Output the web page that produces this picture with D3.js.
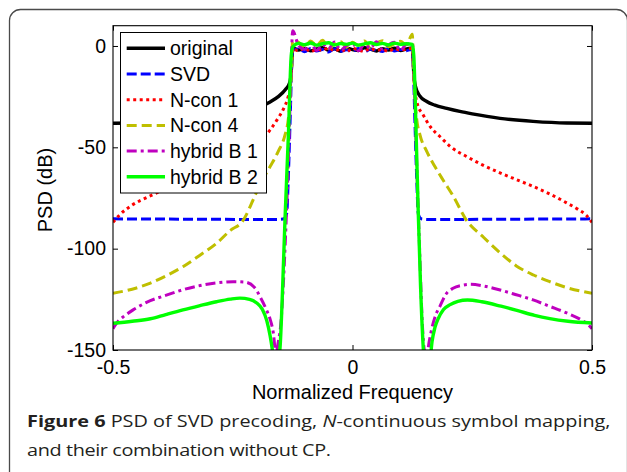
<!DOCTYPE html>
<html>
<head>
<meta charset="utf-8">
<script src="https://cdn.jsdelivr.net/npm/d3@7"></script>
<style>
  html, body { margin: 0; padding: 0; background: #fff; }
  svg { display: block; }
</style>
</head>
<body>
<svg id="chart" width="627" height="472"></svg>
<script>
// ---------------- data ----------------
const xTicks = [-0.5, 0, 0.5];
const yTicks = [0, -50, -100, -150];
const xTickLabels = ["-0.5", "0", "0.5"];
const yTickLabels = ["0", "-50", "-100", "-150"];
const seriesNames = ["original", "SVD", "N-con 1", "N-con 4", "hybrid B 1", "hybrid B 2"];

// passband frequencies shared by all curves
const bandFreq = [-0.125,-0.1125,-0.1,-0.0875,-0.075,-0.0625,-0.05,-0.0375,-0.025,-0.0125,0,
                  0.0125,0.025,0.0375,0.05,0.0625,0.075,0.0875,0.1,0.1125,0.125];

// original
const originalLeft = [[-0.5,-38.1],[-0.447,-38],[-0.377,-37.2],[-0.308,-35.6],[-0.25,-33.3],[-0.224,-32],
  [-0.197,-30.3],[-0.172,-27.6],[-0.155,-25],[-0.14,-21.5],[-0.131,-18],[-0.128,-13],[-0.1265,-6]];
const originalBand = [-1,-2,-1.2,-2.4,-1.5,-0.8,-2.1,-1.4,-2.6,-1.1,-1.8,-2.2,-0.9,-1.6,-2.5,-1.3,-2,-1.1,-2.3,-1.5,-1];
const originalRight = [[0.1265,-6],[0.128,-14],[0.131,-19.5],[0.14,-24.5],[0.155,-27.4],[0.172,-29.2],
  [0.197,-30.8],[0.224,-32.3],[0.25,-33.5],[0.308,-35.7],[0.377,-37.2],[0.447,-38],[0.5,-38.1]];

// SVD
const svdLeft = [[-0.5,-85.3],[-0.4,-85.4],[-0.3,-85.5],[-0.2,-85.6],[-0.16,-85.6],[-0.145,-85.4],
  [-0.14,-84.5],[-0.137,-82],[-0.134,-65],[-0.13,-35],[-0.127,-10]];
const svdBand = [-2.2,-1.5,-2.8,-1.2,-2.5,-1.8,-3,-1.4,-2.6,-1.9,-2.4,-1.2,-2.9,-1.6,-2.2,-2.7,-1.3,-2.5,-1.8,-2.3,-1.6];
const svdRight = [[0.127,-10],[0.13,-35],[0.134,-65],[0.137,-82],[0.14,-84.5],[0.145,-85.4],
  [0.16,-85.6],[0.2,-85.6],[0.3,-85.5],[0.4,-85.4],[0.5,-85.3]];

// N-con 1
const ncon1Left = [[-0.5,-87],[-0.486,-83.3],[-0.46,-78.5],[-0.425,-74.3],[-0.38,-69.5],[-0.356,-67],
  [-0.31,-62.8],[-0.27,-58.5],[-0.24,-55],[-0.2,-49],[-0.172,-41.4],[-0.155,-35.5],[-0.142,-30],
  [-0.135,-25.6],[-0.13,-20],[-0.127,-10]];
const ncon1Band = [-1.5,-2.4,-1,-2.8,-1.7,-2.2,-0.9,-2.5,-1.4,-2.9,-1.2,-2,-2.6,-1.1,-2.3,-1.6,-2.7,-1.3,-2.1,-1.5,-1.2];
const ncon1Right = [[0.127,-10],[0.13,-21],[0.137,-29.9],[0.145,-33],[0.162,-39.7],[0.186,-45.5],
  [0.204,-49.6],[0.238,-54.5],[0.27,-58.5],[0.308,-62.6],[0.343,-66],[0.378,-69.4],[0.41,-72.8],
  [0.447,-77.4],[0.47,-80.5],[0.488,-83.5],[0.5,-87]];

// N-con 4
const ncon4Left = [[-0.5,-122],[-0.46,-120],[-0.422,-117],[-0.39,-113.5],[-0.354,-108.9],[-0.32,-103.5],
  [-0.283,-97.2],[-0.255,-91],[-0.23,-86.6],[-0.2,-72],[-0.19,-67],[-0.172,-59.5],[-0.155,-52],
  [-0.141,-44],[-0.134,-36],[-0.13,-25],[-0.127,-10]];
const ncon4Band = [2.6,1.8,-0.8,2.4,0.2,2.8,-1.2,1,2.2,-0.6,1.8,0.3,2.5,-1,1.4,2.6,-0.4,1.2,2.3,0.6,5.8];
const ncon4Right = [[0.127,-10],[0.13,-25],[0.134,-36],[0.141,-44],[0.155,-52],[0.172,-59.5],
  [0.19,-66.5],[0.21,-74],[0.238,-86],[0.274,-94.5],[0.308,-102],[0.342,-108.5],[0.378,-113],
  [0.412,-116.3],[0.447,-119.2],[0.5,-122]];

// hybrid B 1
const hybB1Left = [[-0.5,-139.5],[-0.49,-136],[-0.475,-133],[-0.458,-130.2],[-0.43,-126.5],[-0.387,-122.8],
  [-0.35,-120],[-0.318,-118.2],[-0.28,-116.8],[-0.249,-116.3],[-0.225,-116.5],[-0.205,-119],
  [-0.193,-123.7],[-0.18,-130],[-0.172,-134.8],[-0.165,-142],[-0.16,-152],[-0.155,-146],
  [-0.15,-138],[-0.14,-95],[-0.133,-50],[-0.128,-10]];
const hybB1Band = [7.5,0.2,-1.6,1.6,-2.2,0.8,-1.4,2,-2,0.2,1.4,-2.4,0.9,-1.2,2.1,-1.6,0.6,1.8,-2.2,0.9,1.2];
const hybB1Right = [[0.128,-10],[0.133,-50],[0.14,-100],[0.146,-138],[0.15,-150],[0.155,-153],
  [0.16,-146],[0.166,-139],[0.175,-132],[0.183,-128.2],[0.195,-122.5],[0.21,-119.5],[0.23,-118],
  [0.245,-117.6],[0.275,-118.5],[0.308,-120.4],[0.34,-122.6],[0.377,-125.3],[0.41,-128.3],
  [0.447,-131.7],[0.475,-134.8],[0.492,-137.5],[0.5,-139.5]];

// hybrid B 2
const hybB2Left = [[-0.5,-136.8],[-0.46,-135.8],[-0.422,-134.6],[-0.39,-132.5],[-0.354,-130.2],
  [-0.32,-128.2],[-0.284,-126.2],[-0.255,-124.9],[-0.235,-124.4],[-0.215,-125],[-0.2,-126.8],
  [-0.188,-130],[-0.179,-135.5],[-0.172,-143],[-0.166,-152],[-0.16,-163],[-0.155,-156],
  [-0.151,-148],[-0.146,-120],[-0.141,-86],[-0.134,-45],[-0.128,-5]];
const hybB2Band = [-0.5,1.3,0.6,1.5,0.4,1.1,1.6,0.5,1.2,0.8,1.4,0.4,1,1.6,0.7,1.3,0.5,1.4,0.8,1.1,0.8];
const hybB2Right = [[0.128,-5],[0.133,-45],[0.137,-80],[0.142,-118],[0.148,-150],[0.155,-163],
  [0.162,-155],[0.166,-146],[0.172,-139],[0.179,-134.5],[0.19,-130],[0.204,-127.6],[0.22,-126],
  [0.24,-125.3],[0.27,-126.2],[0.31,-128.4],[0.345,-130.6],[0.38,-132.9],[0.412,-134.5],
  [0.45,-135.8],[0.5,-136.7]];

// ---------------- assemble ----------------
function build(left, band, right) {
  return left.concat(bandFreq.map((f, i) => [f, band[i]])).concat(right);
}
const series = [
  { name: seriesNames[0], data: build(originalLeft, originalBand, originalRight), color: "#000000", width: 3.4, dash: null },
  { name: seriesNames[1], data: build(svdLeft, svdBand, svdRight), color: "#0000ff", width: 3, dash: "10,4" },
  { name: seriesNames[2], data: build(ncon1Left, ncon1Band, ncon1Right), color: "#ff0000", width: 3, dash: "3,3.5" },
  { name: seriesNames[3], data: build(ncon4Left, ncon4Band, ncon4Right), color: "#bfbf00", width: 3, dash: "10,5" },
  { name: seriesNames[4], data: build(hybB1Left, hybB1Band, hybB1Right), color: "#bf00bf", width: 3, dash: "10,4,3,4" },
  { name: seriesNames[5], data: build(hybB2Left, hybB2Band, hybB2Right), color: "#00ff00", width: 3.4, dash: null }
];

// ---------------- drawing ----------------
const svg = d3.select("#chart");
const FONT = "'Liberation Sans', Arial, Helvetica, sans-serif";
const L = 113, R = 592, T = 25.7, B = 350;
const x = d3.scaleLinear().domain([-0.5, 0.5]).range([L, R]);
const y = d3.scaleLinear().domain([-150, 10]).range([B, T]);

// figure frame (rounded)
svg.append("rect")
  .attr("x", 9.5).attr("y", 9.5).attr("width", 618).attr("height", 520)
  .attr("rx", 11).attr("ry", 11)
  .attr("fill", "none").attr("stroke", "#4a4a4a").attr("stroke-width", 1.3);

// clip
svg.append("defs").append("clipPath").attr("id", "plotclip")
  .append("rect").attr("x", L).attr("y", T).attr("width", R - L).attr("height", B - T);

const line = d3.line()
  .x(d => x(d[0])).y(d => y(d[1]))
  .curve(d3.curveMonotoneX);

const gLines = svg.append("g").attr("clip-path", "url(#plotclip)");
series.forEach(s => {
  gLines.append("path")
    .attr("d", line(s.data))
    .attr("fill", "none")
    .attr("stroke", s.color)
    .attr("stroke-width", s.width)
    .attr("stroke-dasharray", s.dash)
    .attr("stroke-linejoin", "round");
});

// axes (MATLAB style box with inward ticks)
const axB = d3.axisBottom(x).tickValues(xTicks).tickFormat((d, i) => xTickLabels[i])
  .tickSizeInner(-5).tickSizeOuter(0).tickPadding(10);
const axL = d3.axisLeft(y).tickValues(yTicks).tickFormat((d, i) => yTickLabels[i])
  .tickSizeInner(-5).tickSizeOuter(0).tickPadding(7);
const axT = d3.axisTop(x).tickValues(xTicks).tickFormat("").tickSizeInner(-5).tickSizeOuter(0);
const axR = d3.axisRight(y).tickValues(yTicks).tickFormat("").tickSizeInner(-5).tickSizeOuter(0);

function styleAxis(g) {
  g.select(".domain").remove();
  g.selectAll("line").attr("stroke", "#000").attr("stroke-width", 1);
  g.selectAll("text").attr("fill", "#000").style("font-family", FONT).style("font-size", "19.5px");
}
svg.append("g").attr("transform", `translate(0,${B})`).call(axB).call(styleAxis);
svg.append("g").attr("transform", `translate(${L},0)`).call(axL).call(styleAxis);
svg.append("g").attr("transform", `translate(0,${T})`).call(axT).call(styleAxis);
svg.append("g").attr("transform", `translate(${R},0)`).call(axR).call(styleAxis);

// plot box
svg.append("rect")
  .attr("x", L).attr("y", T).attr("width", R - L).attr("height", B - T)
  .attr("fill", "none").attr("stroke", "#000").attr("stroke-width", 1.1);

// axis labels
svg.append("text")
  .attr("x", 352.5).attr("y", 399)
  .attr("text-anchor", "middle")
  .style("font-family", FONT).style("font-size", "20px")
  .text("Normalized Frequency");
svg.append("text")
  .attr("transform", "translate(52,190) rotate(-90)")
  .attr("text-anchor", "middle")
  .style("font-family", FONT).style("font-size", "20px")
  .text("PSD (dB)");

// legend
const lg = svg.append("g");
lg.append("rect")
  .attr("x", 120.5).attr("y", 32.5).attr("width", 146).attr("height", 160.5)
  .attr("fill", "#fff").attr("stroke", "#000").attr("stroke-width", 1);
series.forEach((s, i) => {
  const yy = 48.3 + i * 25.7;
  lg.append("line")
    .attr("x1", 126.7).attr("x2", 165).attr("y1", yy).attr("y2", yy)
    .attr("stroke", s.color).attr("stroke-width", s.width)
    .attr("stroke-dasharray", s.dash);
  lg.append("text")
    .attr("x", 170).attr("y", yy).attr("dy", "0.35em")
    .style("font-family", FONT).style("font-size", "19.5px")
    .text(s.name);
});

// caption
const CAPFONT = "'Open Sans', 'Noto Sans', sans-serif";
const cap = svg.append("g");
const c1 = cap.append("text").attr("x", 0).attr("y", 0)
  .style("font-family", CAPFONT).style("font-size", "16.5px").attr("fill", "#231f20");
c1.append("tspan").attr("font-weight", "bold").text("Figure 6");
c1.append("tspan").text(" PSD of SVD precoding, ");
c1.append("tspan").attr("font-style", "italic").text("N");
c1.append("tspan").text("-continuous symbol mapping,");
const c2 = cap.append("text").attr("x", 0).attr("y", 29)
  .style("font-family", CAPFONT).style("font-size", "16.5px").attr("fill", "#231f20")
  .text("and their combination without CP.");
const w1 = c1.node().getComputedTextLength();
const sx = 584 / w1;
c2.attr("textLength", 304 / sx).attr("lengthAdjust", "spacing");
cap.attr("transform", `translate(27,427) scale(${sx},1)`);
</script>
</body>
</html>
